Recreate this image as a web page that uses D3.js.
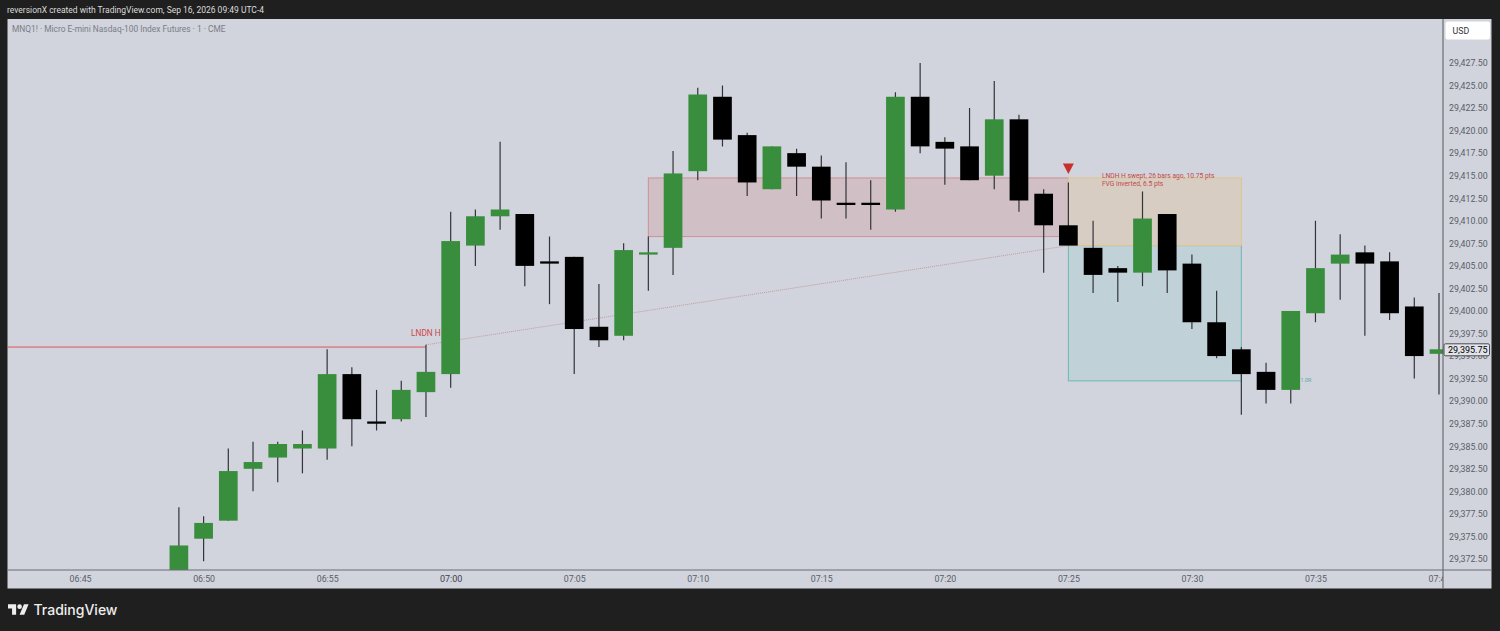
<!DOCTYPE html>
<html>
<head>
<meta charset="utf-8">
<script src="https://cdn.jsdelivr.net/npm/d3@7"></script>
<style>
  body { margin: 0; background: #1f1f1f; }
  svg { display: block; font-family: Roboto, "Open Sans", sans-serif; }
  .tick text { font-family: Roboto, "Open Sans", sans-serif; }
</style>
</head>
<body>
<div class="svg"></div>
<script>
// one candle per minute, starting 06:49
const startMinute = Date.UTC(2026, 8, 16, 6, 49);
const opens = [29368.0, 29374.75, 29376.75, 29382.5, 29383.75, 29384.75, 29384.75, 29393.0, 29387.75, 29388.0, 29391.0,
  29393.0, 29407.25, 29410.5, 29410.75, 29405.5, 29406.0, 29398.25, 29397.25, 29406.25, 29407.0,
  29415.5, 29423.75, 29419.5, 29413.5, 29417.5, 29416.0, 29412.0, 29412.0, 29411.25, 29423.75,
  29418.75, 29418.25, 29415.0, 29421.25, 29413.0, 29409.5, 29407.0, 29404.75, 29404.25, 29410.75,
  29405.25, 29398.75, 29395.75, 29393.25, 29391.25, 29399.75, 29405.25, 29406.5, 29405.5, 29400.5, 29395.25];
const closes = [29374.0, 29376.5, 29382.25, 29383.25, 29385.25, 29385.25, 29393.0, 29388.0, 29387.5, 29391.25, 29393.25,
  29407.75, 29410.5, 29411.25, 29405.0, 29405.25, 29398.0, 29396.75, 29406.75, 29406.5, 29415.25,
  29424.0, 29419.0, 29414.25, 29418.25, 29416.0, 29412.25, 29411.75, 29411.75, 29423.75, 29418.25,
  29418.0, 29414.5, 29421.25, 29412.25, 29409.5, 29407.25, 29404.0, 29404.25, 29410.25, 29404.5,
  29398.75, 29395.0, 29393.0, 29391.25, 29400.0, 29404.75, 29406.25, 29405.25, 29399.75, 29395.0, 29395.75];
const highs = [29378.25, 29377.25, 29384.75, 29385.5, 29385.5, 29386.75, 29395.75, 29393.75, 29391.25, 29392.25, 29396.25,
  29411.0, 29411.25, 29418.75, 29410.75, 29408.25, 29406.0, 29403.0, 29407.5, 29408.25, 29417.75,
  29424.75, 29425.0, 29419.75, 29418.25, 29418.0, 29417.25, 29416.5, 29414.5, 29424.25, 29427.5,
  29419.25, 29422.5, 29425.5, 29421.75, 29413.5, 29414.25, 29410.0, 29405.0, 29413.25, 29410.75,
  29406.25, 29402.25, 29396.0, 29394.25, 29400.0, 29410.0, 29408.5, 29407.25, 29406.5, 29401.5, 29402.0];
const lows = [29367.0, 29372.25, 29376.75, 29380.0, 29381.0, 29382.0, 29383.5, 29385.0, 29386.75, 29387.75, 29388.25,
  29391.5, 29405.0, 29409.0, 29402.75, 29400.75, 29393.0, 29396.0, 29396.75, 29402.25, 29404.0,
  29414.5, 29418.25, 29412.75, 29413.5, 29412.75, 29410.25, 29410.25, 29409.0, 29411.0, 29417.5,
  29414.0, 29414.5, 29413.5, 29411.0, 29404.25, 29407.25, 29402.0, 29401.0, 29402.75, 29402.0,
  29398.0, 29394.75, 29388.5, 29389.75, 29389.75, 29398.75, 29401.25, 29397.25, 29399.0, 29392.5, 29390.75];

const priceTicks = d3.range(0, 23).map((i) => 29427.5 - i * 2.5);
const timeTicks = [[6, 45], [6, 50], [6, 55], [7, 0], [7, 5], [7, 10], [7, 15], [7, 20], [7, 25], [7, 30], [7, 35], [7, 40]]
  .map((t) => new Date(Date.UTC(2026, 8, 16, t[0], t[1])));

const lastPrice = 29395.75;
const lndnHigh = 29396.0;
const sweepFrom = [new Date(Date.UTC(2026, 8, 16, 6, 59)), 29396.25];
const sweepTo = [new Date(Date.UTC(2026, 8, 16, 7, 25)), 29407.25];
const redZone = [new Date(Date.UTC(2026, 8, 16, 7, 8)), new Date(Date.UTC(2026, 8, 16, 7, 25)), 29414.75, 29408.25];
const stopZone = [new Date(Date.UTC(2026, 8, 16, 7, 25)), new Date(Date.UTC(2026, 8, 16, 7, 32)), 29414.75, 29407.25];
const targetZone = [new Date(Date.UTC(2026, 8, 16, 7, 25)), new Date(Date.UTC(2026, 8, 16, 7, 32)), 29407.25, 29392.25];

const width = 1500;
const height = 631;
const plot = { left: 7.5, right: 1443, top: 19, bottom: 570, axisRight: 1491.5, axisBottom: 588.5 };
const barWidth = 18.7;
const green = "#388e3c";

const x = d3.scaleUtc()
  .domain([new Date(Date.UTC(2026, 8, 16, 6, 50)), new Date(Date.UTC(2026, 8, 16, 7, 40))])
  .range([203.6, 1439]);
const y = d3.scaleLinear().domain([29425, 29372.5]).range([85.5, 559]);

const candles = opens.map((o, i) => ({
  time: new Date(startMinute + i * 60000),
  open: o,
  close: closes[i],
  high: highs[i],
  low: lows[i],
}));

const svg = d3.select(".svg").append("svg").attr("width", width).attr("height", height);

svg.append("rect").attr("width", width).attr("height", height).attr("fill", "#1f1f1f");
svg.append("rect")
  .attr("x", plot.left).attr("y", plot.top)
  .attr("width", plot.axisRight - plot.left).attr("height", plot.axisBottom - plot.top)
  .attr("fill", "#d1d4dc");

const defs = svg.append("defs");
defs.append("clipPath").attr("id", "plotClip").append("rect")
  .attr("x", plot.left).attr("y", plot.top)
  .attr("width", plot.right - plot.left).attr("height", plot.bottom - plot.top);
defs.append("clipPath").attr("id", "timeClip").append("rect")
  .attr("x", plot.left).attr("y", plot.bottom)
  .attr("width", plot.right - plot.left).attr("height", plot.axisBottom - plot.bottom);

const chart = svg.append("g").attr("clip-path", "url(#plotClip)");

function drawZone(zone, fill, stroke) {
  chart.append("rect")
    .attr("x", x(zone[0])).attr("y", y(zone[2]))
    .attr("width", x(zone[1]) - x(zone[0])).attr("height", y(zone[3]) - y(zone[2]))
    .attr("fill", fill).attr("stroke", stroke).attr("stroke-width", 1);
}
drawZone(redZone, "#d0bfc5", "#cf8f98");
drawZone(targetZone, "#c0d1d8", "#6cb8b4");
drawZone(stopZone, "#d8cdc3", "#dfc48c");

chart.append("line")
  .attr("x1", plot.left).attr("x2", x(sweepFrom[0]))
  .attr("y1", y(lndnHigh)).attr("y2", y(lndnHigh))
  .attr("stroke", "#d9565c").attr("stroke-width", 1);

chart.append("line")
  .attr("x1", x(sweepFrom[0])).attr("y1", y(sweepFrom[1]))
  .attr("x2", x(sweepTo[0])).attr("y2", y(sweepTo[1]))
  .attr("stroke", "#c29aa2").attr("stroke-width", 1).attr("stroke-dasharray", "1 1");

chart.selectAll(".wick").data(candles).join("line")
  .attr("class", "wick")
  .attr("x1", (d) => x(d.time)).attr("x2", (d) => x(d.time))
  .attr("y1", (d) => y(d.high)).attr("y2", (d) => y(d.low))
  .attr("stroke", "#33343a").attr("stroke-width", 1.2);

chart.selectAll(".body").data(candles).join("rect")
  .attr("class", "body")
  .attr("x", (d) => x(d.time) - barWidth / 2)
  .attr("width", barWidth)
  .attr("y", (d) => y(Math.max(d.open, d.close)))
  .attr("height", (d) => Math.abs(y(d.open) - y(d.close)))
  .attr("fill", (d) => (d.close >= d.open ? green : "#000"));

// signal marker above the 07:25 bar
const markerX = x(sweepTo[0]);
const markerY = y(highs[36]);
chart.append("path")
  .attr("d", d3.line()([[markerX - 5.5, markerY - 19], [markerX + 5.5, markerY - 19], [markerX, markerY - 8.5]]))
  .attr("fill", "#c9302c");

chart.append("text").attr("x", 411).attr("y", 336)
  .attr("fill", "#d0454c").attr("font-size", 8.3).text("LNDN H");
chart.append("text").attr("x", x(stopZone[0]) + 33.5).attr("y", 177.5)
  .attr("fill", "#c4484c").attr("font-size", 6.7).text("LNDH H swept, 26 bars ago, 10.75 pts");
chart.append("text").attr("x", x(stopZone[0]) + 33.5).attr("y", 185.5)
  .attr("fill", "#c4484c").attr("font-size", 6.7).text("FVG inverted, 6.5 pts");
chart.append("text").attr("x", 1300.5).attr("y", 382)
  .attr("fill", "#5fa8a6").attr("font-size", 5.4).text("1.0R");

// price axis
const yAxis = svg.append("g")
  .attr("transform", `translate(${plot.right},0)`)
  .call(d3.axisRight(y).tickValues(priceTicks).tickFormat(d3.format(",.2f")).tickSize(0).tickPadding(6));
yAxis.select(".domain").remove();
yAxis.selectAll("text").attr("font-size", 8.8).attr("fill", "#5a5d68");

// time axis
const xAxis = svg.append("g")
  .attr("clip-path", "url(#timeClip)")
  .append("g")
  .attr("transform", `translate(0,${plot.bottom})`)
  .call(d3.axisBottom(x).tickValues(timeTicks).tickFormat(d3.utcFormat("%H:%M")).tickSize(0).tickPadding(6));
xAxis.select(".domain").remove();
xAxis.selectAll("text").attr("font-size", 8.8).attr("fill", "#5a5d68");
xAxis.selectAll(".tick").filter((d) => d.getUTCHours() === 7 && d.getUTCMinutes() === 0)
  .select("text").attr("font-size", 9).attr("fill", "#3c3f48");

svg.append("line")
  .attr("x1", plot.right).attr("x2", plot.right)
  .attr("y1", plot.top).attr("y2", plot.axisBottom)
  .attr("stroke", "#55585f").attr("stroke-width", 1);
svg.append("line")
  .attr("x1", plot.left).attr("x2", plot.axisRight)
  .attr("y1", plot.bottom).attr("y2", plot.bottom)
  .attr("stroke", "#6a6d75").attr("stroke-width", 1);

// last price label
const lastY = y(lastPrice);
svg.append("rect")
  .attr("x", plot.right + 1).attr("y", lastY - 5.5)
  .attr("width", 45.5).attr("height", 12).attr("rx", 1.5)
  .attr("fill", "#e1e3e8").attr("stroke", "#4a4a50").attr("stroke-width", 1);
svg.append("text")
  .attr("x", plot.right + 5).attr("y", lastY + 3.8)
  .attr("fill", "#000").attr("font-size", 9).text(d3.format(",.2f")(lastPrice));

// currency box
svg.append("rect")
  .attr("x", 1445.5).attr("y", 21.5).attr("width", 44.5).attr("height", 18).attr("rx", 2)
  .attr("fill", "#fff");
svg.append("text").attr("x", 1452.5).attr("y", 33.8)
  .attr("fill", "#33353c").attr("font-size", 8.8).text("USD");

// header and legend
svg.append("text").attr("x", 7).attr("y", 13)
  .attr("fill", "#dcdcdc").attr("font-size", 8.5)
  .text("reversionX created with TradingView.com, Sep 16, 2026 09:49 UTC-4");
svg.append("text").attr("x", 12).attr("y", 32)
  .attr("fill", "#7a7d88").attr("font-size", 8.4)
  .text("MNQ1! · Micro E-mini Nasdaq-100 Index Futures · 1 · CME");

// footer logo
const logo = svg.append("g").attr("transform", "translate(8,602) scale(0.58)").attr("fill", "#eee");
logo.append("path").attr("d", "M14 22H7V11H0V4h14v18zM28 22h-8l7.5-18h8L28 22z");
logo.append("circle").attr("cx", 20).attr("cy", 8).attr("r", 4);
svg.append("text").attr("x", 33.5).attr("y", 615)
  .attr("fill", "#eee").attr("font-family", "Inter, Roboto, sans-serif")
  .attr("font-size", 14).attr("font-weight", 500).text("TradingView");
</script>
</body>
</html>
